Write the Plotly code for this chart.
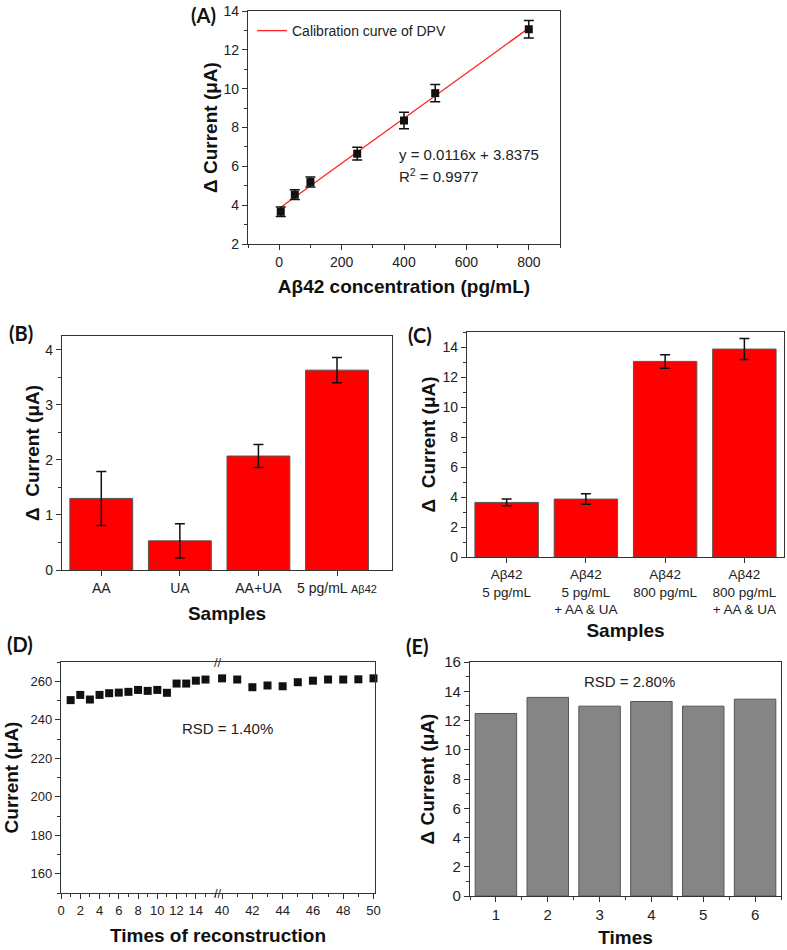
import plotly.graph_objects as go

W, H = 787, 950

# ---------------- data ----------------
# (A) calibration
a_conc = [5, 50, 100, 250, 400, 500, 800]
a_current = [3.66, 4.54, 5.19, 6.65, 8.36, 9.77, 13.06]
a_err = [0.24, 0.25, 0.26, 0.33, 0.42, 0.45, 0.45]
a_slope, a_intercept = 0.0116, 3.8375
a_fit_x = [5, 800]

# (B) interference
b_labels = ["AA", "UA", "AA+UA", "5 pg/mL <span style='font-size:11px'>Aβ42</span>"]
b_values = [1.30, 0.53, 2.07, 3.63]
b_err = [0.49, 0.31, 0.21, 0.23]

# (C) selectivity
c_labels = ["Aβ42<br>5 pg/mL", "Aβ42<br>5 pg/mL<br>+ AA & UA",
            "Aβ42<br>800 pg/mL", "Aβ42<br>800 pg/mL<br>+ AA & UA"]
c_values = [3.64, 3.86, 13.04, 13.86]
c_err = [0.23, 0.35, 0.45, 0.70]

# (D) reconstruction stability (broken x axis)
d_x1 = list(range(1, 16))
d_y1 = [250.2, 252.9, 250.5, 252.9, 253.8, 254.1, 254.5, 255.5, 255.0, 255.5,
        254.0, 258.8, 258.8, 260.3, 260.9]
d_x2 = list(range(40, 51))
d_y2 = [261.5, 260.9, 256.9, 257.8, 257.4, 259.5, 260.3, 260.9, 260.9, 261.0, 261.5]

# (E) reproducibility
e_times = [1, 2, 3, 4, 5, 6]
e_values = [12.48, 13.58, 12.98, 13.30, 12.98, 13.46]

# ---------------- helpers ----------------
def dx(p0, p1):
    return [p0 / W, p1 / W]

def dy(top, bot):
    return [1 - bot / H, 1 - top / H]

TICKF = dict(family="Liberation Sans, Arial, sans-serif", size=14, color="#222")
TITLEF = dict(family="Liberation Sans, Arial, sans-serif", size=19, color="#111")
LINE = "#333"

def axis_style(**kw):
    d = dict(showline=True, linecolor=LINE, linewidth=1.2, mirror=True,
             ticks="outside", ticklen=5, tickwidth=1.2, tickcolor=LINE,
             showgrid=False, zeroline=False, tickfont=TICKF, automargin=False)
    d.update(kw)
    return d

fig = go.Figure()

# (A)
a_fit_y = [a_slope * x + a_intercept for x in a_fit_x]
fig.add_trace(go.Scatter(x=a_fit_x, y=a_fit_y, mode="lines",
                         line=dict(color="#ff2020", width=1.3),
                         name="Calibration curve of DPV", showlegend=True,
                         xaxis="x", yaxis="y"))
fig.add_trace(go.Scatter(x=a_conc, y=a_current, mode="markers",
                         marker=dict(symbol="square", size=8, color="#111"),
                         error_y=dict(type="data", array=a_err, color="#111",
                                      thickness=1.5, width=5),
                         showlegend=False, xaxis="x", yaxis="y"))

# (B)
fig.add_trace(go.Bar(x=b_labels, y=b_values, width=0.8,
                     marker=dict(color="#ff0000", line=dict(color="#555", width=1)),
                     error_y=dict(type="data", array=b_err, color="#111",
                                  thickness=1.5, width=5),
                     showlegend=False, xaxis="x2", yaxis="y2"))

# (C)
fig.add_trace(go.Bar(x=c_labels, y=c_values, width=0.8,
                     marker=dict(color="#ff0000", line=dict(color="#555", width=1)),
                     error_y=dict(type="data", array=c_err, color="#111",
                                  thickness=1.5, width=5),
                     showlegend=False, xaxis="x3", yaxis="y3"))

# (D)
fig.add_trace(go.Scatter(x=d_x1, y=d_y1, mode="markers",
                         marker=dict(symbol="square", size=8, color="#111"),
                         showlegend=False, xaxis="x4", yaxis="y4", cliponaxis=False))
fig.add_trace(go.Scatter(x=d_x2, y=d_y2, mode="markers",
                         marker=dict(symbol="square", size=8, color="#111"),
                         showlegend=False, xaxis="x5", yaxis="y5", cliponaxis=False))

# (E)
fig.add_trace(go.Bar(x=e_times, y=e_values, width=0.8,
                     marker=dict(color="#858585", line=dict(color="#555", width=1)),
                     showlegend=False, xaxis="x6", yaxis="y6"))

layout = dict(
    width=W, height=H, margin=dict(l=0, r=0, t=0, b=0),
    paper_bgcolor="white", plot_bgcolor="white",
    font=dict(family="Liberation Sans, Arial, sans-serif"),
    legend=dict(x=252 / W, y=1 - 15 / H, xanchor="left", yanchor="top",
                bgcolor="rgba(0,0,0,0)", font=dict(size=14, color="#222"),
                borderwidth=0),
    # (A)
    xaxis=axis_style(domain=dx(248, 560), anchor="y", range=[-100, 900],
                     tickvals=[0, 200, 400, 600, 800],
                     minor=dict(dtick=100, ticks="outside", ticklen=3, tickcolor=LINE),
                     title=dict(text="<b>Aβ42 concentration (pg/mL)</b>", font=TITLEF,
                                standoff=10)),
    yaxis=axis_style(domain=dy(11, 244), anchor="x", range=[2, 14], dtick=2,
                     minor=dict(dtick=1, ticks="outside", ticklen=3, tickcolor=LINE),
                     title=dict(text="<b>Δ Current (μA)</b>", font=TITLEF, standoff=0)),
    # (B)
    xaxis2=axis_style(domain=dx(62, 392), anchor="y2", range=[-0.5, 3.7],
                      title=dict(text="<b>Samples</b>", font=TITLEF, standoff=11)),
    yaxis2=axis_style(domain=dy(336, 570), anchor="x2", range=[0, 4.25], dtick=1,
                      minor=dict(dtick=0.5, ticks="outside", ticklen=3, tickcolor=LINE),
                      title=dict(text="<b>Δ  Current (μA)</b>", font=TITLEF, standoff=0)),
    # (C)
    xaxis3=axis_style(domain=dx(467, 784), anchor="y3", range=[-0.5, 3.5],
                      tickfont=dict(TICKF, size=13.5),
                      title=dict(text="<b>Samples</b>", font=TITLEF, standoff=7)),
    yaxis3=axis_style(domain=dy(332, 557), anchor="x3", range=[0, 15], dtick=2,
                      minor=dict(dtick=1, ticks="outside", ticklen=3, tickcolor=LINE),
                      title=dict(text="<b>Δ  Current (μA)</b>", font=TITLEF, standoff=1)),
    # (D) left segment
    xaxis4=axis_style(domain=dx(61, 218), anchor="y4", range=[0, 16.3],
                      tickvals=[0, 2, 4, 6, 8, 10, 12, 14],
                      tickfont=dict(TICKF, size=13),
                      minor=dict(dtick=1, ticks="outside", ticklen=3, tickcolor=LINE)),
    yaxis4=axis_style(domain=dy(662, 893), anchor="x4", range=[150, 270], dtick=20,
                      mirror=False, tickfont=dict(TICKF, size=13),
                      minor=dict(dtick=10, ticks="outside", ticklen=3, tickcolor=LINE),
                      title=dict(text="<b>Current (μA)</b>", font=TITLEF, standoff=6)),
    # (D) right segment
    xaxis5=axis_style(domain=dx(218, 375), anchor="y5", range=[39.73, 50.1],
                      tickvals=[40, 42, 44, 46, 48, 50],
                      tickfont=dict(TICKF, size=13),
                      minor=dict(dtick=1, ticks="outside", ticklen=3, tickcolor=LINE)),
    yaxis5=axis_style(domain=dy(662, 893), anchor="x5", matches="y4", side="right",
                      mirror=False, ticks="", showticklabels=False),
    # (E)
    xaxis6=axis_style(domain=dx(470, 781), anchor="y6", range=[0.5, 6.5], dtick=1,
                      tickfont=dict(TICKF, size=15),
                      minor=dict(tick0=0.5, dtick=1, ticks="outside", ticklen=3, tickcolor=LINE),
                      title=dict(text="<b>Times</b>", font=TITLEF, standoff=8)),
    yaxis6=axis_style(domain=dy(662, 896), anchor="x6", range=[0, 16], dtick=2,
                      tickfont=dict(TICKF, size=15),
                      minor=dict(dtick=1, ticks="outside", ticklen=3, tickcolor=LINE),
                      title=dict(text="<b>Δ Current (μA)</b>", font=TITLEF, standoff=4)),
    bargap=0.2,
)
fig.update_layout(**layout)

PANELF = dict(family="Lato, Open Sans, sans-serif", size=20, color="#111")
ann = []
for lab, px, py in [("(A)", 189, 15), ("(B)", 7, 333), ("(C)", 406, 335),
                    ("(D)", 5, 644), ("(E)", 404, 646)]:
    ann.append(dict(text=f"<b>{lab}</b>", xref="paper", yref="paper",
                    x=px / W, y=1 - py / H, xanchor="left", yanchor="middle",
                    showarrow=False, font=PANELF))

ANNF = dict(family="Liberation Sans, Arial, sans-serif", size=15, color="#222")
ann.append(dict(text="y = 0.0116x + 3.8375", xref="x", yref="y", x=376, y=6.6,
                xanchor="left", yanchor="middle", showarrow=False, font=ANNF))
ann.append(dict(text="R<sup>2</sup> = 0.9977", xref="x", yref="y", x=376, y=5.55,
                xanchor="left", yanchor="middle", showarrow=False, font=ANNF))
ann.append(dict(text="RSD = 1.40%", xref="paper", yref="paper", x=227 / W, y=1 - 728 / H,
                xanchor="center", yanchor="middle", showarrow=False, font=ANNF))
ann.append(dict(text="RSD = 2.80%", xref="x6", yref="y6", x=3.57, y=14.67,
                xanchor="center", yanchor="middle", showarrow=False, font=ANNF))
# axis break marks
for py in (662, 893):
    ann.append(dict(text="//", xref="paper", yref="paper", x=218 / W, y=1 - py / H,
                    xanchor="center", yanchor="middle", showarrow=False,
                    font=dict(family="Liberation Sans, Arial", size=13, color="#333")))
# shared x title of broken axis
ann.append(dict(text="<b>Times of reconstruction</b>", xref="paper", yref="paper",
                x=218 / W, y=1 - 935 / H, xanchor="center", yanchor="middle",
                showarrow=False, font=TITLEF))
fig.update_layout(annotations=ann)

fig.write_html("out.html", config={"displayModeBar": False},
               post_script="document.body.style.margin='0';document.body.style.overflow='hidden';")
